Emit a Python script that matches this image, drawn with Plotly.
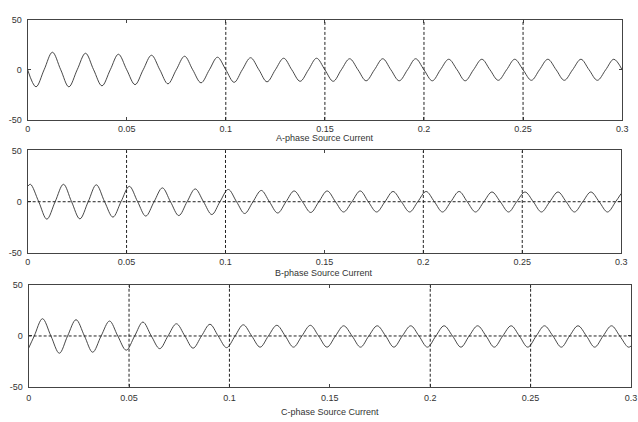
import plotly.graph_objects as go

# ---------------- data ----------------
X_TICKS = [0, 0.05, 0.1, 0.15, 0.2, 0.25, 0.3]
X_TICK_TEXT = ["0", "0.05", "0.1", "0.15", "0.2", "0.25", "0.3"]
Y_TICKS = [-50, 0, 50]
Y_TICK_TEXT = ["-50", "0", "50"]
TITLES = ["A-phase Source Current", "B-phase Source Current", "C-phase Source Current"]

# A-phase: samples at zero crossings and extrema
A_t = [0.0000, 0.0042, 0.0083, 0.0125, 0.0167, 0.0208, 0.0250, 0.0292, 0.0333, 0.0375,
       0.0417, 0.0458, 0.0500, 0.0542, 0.0583, 0.0625, 0.0667, 0.0708, 0.0750, 0.0792,
       0.0833, 0.0875, 0.0917, 0.0958, 0.1000, 0.1042, 0.1083, 0.1125, 0.1167, 0.1208,
       0.1250, 0.1292, 0.1333, 0.1375, 0.1417, 0.1458, 0.1500, 0.1542, 0.1583, 0.1625,
       0.1667, 0.1708, 0.1750, 0.1792, 0.1833, 0.1875, 0.1917, 0.1958, 0.2000, 0.2042,
       0.2083, 0.2125, 0.2167, 0.2208, 0.2250, 0.2292, 0.2333, 0.2375, 0.2417, 0.2458,
       0.2500, 0.2542, 0.2583, 0.2625, 0.2667, 0.2708, 0.2750, 0.2792, 0.2833, 0.2875,
       0.2917, 0.2958, 0.3000]
A_i = [0, -17, 0, 17.5, 0, -17, 0, 16.5, 0, -16,
       0, 15.5, 0, -14.8, 0, 14.5, 0, -14, 0, 13.5,
       0, -13, 0, 12.5, 0, -12.5, 0, 12, 0, -12,
       0, 11.5, 0, -11.5, 0, 11.5, 0, -11.5, 0, 11,
       0, -11, 0, 11, 0, -11, 0, 11, 0, -11,
       0, 10.5, 0, -11, 0, 10.5, 0, -10.5, 0, 10.5,
       0, -10.5, 0, 10.5, 0, -10.5, 0, 10.5, 0, -10.5,
       0, 10.5, 0]

# B-phase
B_t = [0.0000, 0.0014, 0.0056, 0.0097, 0.0139, 0.0181, 0.0222, 0.0264, 0.0306, 0.0347,
       0.0389, 0.0431, 0.0472, 0.0514, 0.0556, 0.0597, 0.0639, 0.0681, 0.0722, 0.0764,
       0.0806, 0.0847, 0.0889, 0.0931, 0.0972, 0.1014, 0.1056, 0.1097, 0.1139, 0.1181,
       0.1222, 0.1264, 0.1306, 0.1347, 0.1389, 0.1431, 0.1472, 0.1514, 0.1556, 0.1597,
       0.1639, 0.1681, 0.1722, 0.1764, 0.1806, 0.1847, 0.1889, 0.1931, 0.1972, 0.2014,
       0.2056, 0.2097, 0.2139, 0.2181, 0.2222, 0.2264, 0.2306, 0.2347, 0.2389, 0.2431,
       0.2472, 0.2514, 0.2556, 0.2597, 0.2639, 0.2681, 0.2722, 0.2764, 0.2806, 0.2847,
       0.2889, 0.2931, 0.2972, 0.3000]
B_i = [15, 17, 0, -17, 0, 17, 0, -16.7, 0, 16.5,
       0, -15, 0, 15, 0, -14, 0, 13.5, 0, -13.5,
       0, 12.5, 0, -12.5, 0, 12, 0, -11.5, 0, 11,
       0, -11, 0, 10.5, 0, -10.5, 0, 10.5, 0, -10,
       0, 10.5, 0, -10, 0, 10, 0, -10, 0, 10,
       0, -10, 0, 10, 0, -10, 0, 9.5, 0, -10,
       0, 9.5, 0, -10, 0, 9.5, 0, -10, 0, 9.5,
       0, -10, 0, 8]

# C-phase
C_t = [0.0000, 0.0028, 0.0069, 0.0111, 0.0153, 0.0194, 0.0236, 0.0278, 0.0319, 0.0361,
       0.0403, 0.0444, 0.0486, 0.0528, 0.0569, 0.0611, 0.0653, 0.0694, 0.0736, 0.0778,
       0.0819, 0.0861, 0.0903, 0.0944, 0.0986, 0.1028, 0.1069, 0.1111, 0.1153, 0.1194,
       0.1236, 0.1278, 0.1319, 0.1361, 0.1403, 0.1444, 0.1486, 0.1528, 0.1569, 0.1611,
       0.1653, 0.1694, 0.1736, 0.1778, 0.1819, 0.1861, 0.1903, 0.1944, 0.1986, 0.2028,
       0.2069, 0.2111, 0.2153, 0.2194, 0.2236, 0.2278, 0.2319, 0.2361, 0.2403, 0.2444,
       0.2486, 0.2528, 0.2569, 0.2611, 0.2653, 0.2694, 0.2736, 0.2778, 0.2819, 0.2861,
       0.2903, 0.2944, 0.2986, 0.3000]
C_i = [-12, 0, 17, 0, -17, 0, 16, 0, -16, 0,
       14.7, 0, -14, 0, 13.7, 0, -12.5, 0, 12, 0,
       -12, 0, 11.5, 0, -11.5, 0, 11, 0, -11, 0,
       10.5, 0, -11, 0, 10.5, 0, -11, 0, 10, 0,
       -11, 0, 10, 0, -11, 0, 10, 0, -11, 0,
       10, 0, -11, 0, 10, 0, -11, 0, 10, 0,
       -11, 0, 10, 0, -11, 0, 10, 0, -11, 0,
       10, 0, -11, -10]

# dashed reference lines per panel
VLINES = [[0.1, 0.15, 0.2, 0.25], [0.05, 0.1, 0.2, 0.25], [0.05, 0.1, 0.2, 0.25]]
HLINE0 = [False, True, True]

# ---------------- layout ----------------
W, H = 638, 422
# pixel boxes (left, right, top, bottom)
boxes = [(25, 628, 15, 117.7), (25, 627, 149, 254), (26, 637, 287, 391)]
title_y = [136.5, 274.5, 416.5]
x_standoff = [0, 0, 2]

series = [(A_t, A_i), (B_t, B_i), (C_t, C_i)]
fig = go.Figure()
font = dict(family="Liberation Sans, Arial, sans-serif", size=9, color="#333333")

layout = dict(width=W, height=H, margin=dict(l=0, r=0, t=0, b=0),
              paper_bgcolor="white", plot_bgcolor="white", showlegend=False,
              font=font, annotations=[], shapes=[])

for n, ((t, v), (l, r, tp, bt)) in enumerate(zip(series, boxes)):
    xa = "xaxis" if n == 0 else f"xaxis{n+1}"
    ya = "yaxis" if n == 0 else f"yaxis{n+1}"
    xr = "x" if n == 0 else f"x{n+1}"
    yr = "y" if n == 0 else f"y{n+1}"
    fig.add_trace(go.Scatter(x=t, y=v, mode="lines", xaxis=xr, yaxis=yr,
                             line=dict(color="#333333", width=0.9, shape="spline", smoothing=1.0),
                             hoverinfo="skip"))
    common = dict(showgrid=False, zeroline=False, showline=True, linecolor="#444444",
                  linewidth=1, mirror="ticks", ticks="inside", ticklen=3, tickcolor="#444444",
                  tickfont=font)
    layout[xa] = dict(domain=[l / W, r / W], range=[0, 0.3], anchor=yr,
                      tickvals=X_TICKS, ticktext=X_TICK_TEXT, ticklabelstandoff=x_standoff[n],
                      **common)
    layout[ya] = dict(domain=[1 - bt / H, 1 - tp / H], range=[-50, 50], anchor=xr,
                      tickvals=Y_TICKS, ticktext=Y_TICK_TEXT, ticklabelstandoff=3, **common)
    for xv in VLINES[n]:
        layout["shapes"].append(dict(type="line", xref=xr, yref=yr, x0=xv, x1=xv, y0=-50, y1=50,
                                     line=dict(color="#222222", width=1, dash="3px,2px")))
    if HLINE0[n]:
        layout["shapes"].append(dict(type="line", xref=xr, yref=yr, x0=0, x1=0.3, y0=0, y1=0,
                                     line=dict(color="#222222", width=1, dash="3px,2px")))
    layout["annotations"].append(dict(text=TITLES[n], xref="paper", yref="paper",
                                      x=(l + r) / 2 / W, y=1 - title_y[n] / H,
                                      xanchor="center", yanchor="middle", showarrow=False,
                                      font=font))

fig.update_layout(**layout)
fig.write_html("out.html")
